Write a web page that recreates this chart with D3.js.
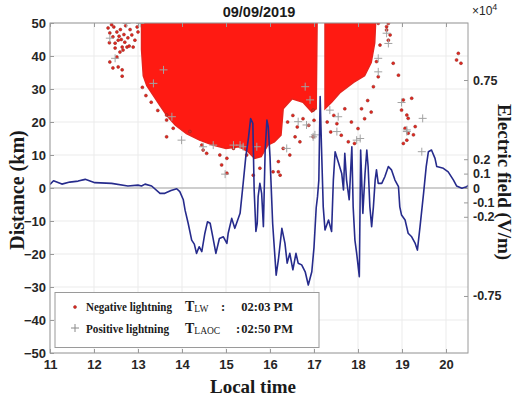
<!DOCTYPE html>
<html>
<head>
<meta charset="utf-8">
<style>
  body { margin: 0; background: #fff; }
  svg { display: block; }
</style>
</head>
<body>
<div id="chart"></div>
<script src="https://d3js.org/d3.v7.min.js"></script>
<script>
var W = 518, H = 401;
var plot = {x0: 50, x1: 468, y0: 23, y1: 353};

var timeTicks = [11, 12, 13, 14, 15, 16, 17, 18, 19, 20];
var distTicks = [-50, -40, -30, -20, -10, 0, 10, 20, 30, 40, 50];
var fieldTicks = [-0.75, -0.2, -0.1, 0, 0.1, 0.2, 0.75];

// electric field, x10^4 V/m  [local time, value]
var field = [
  [11.00, 0.025], [11.08, 0.050], [11.27, 0.027], [11.45, 0.041], [11.64, 0.048], [11.80, 0.060],
  [12.02, 0.037], [12.40, 0.032], [12.77, 0.014], [13.00, 0.020], [13.08, 0.014], [13.16, 0.027],
  [13.31, 0.014], [13.50, -0.037], [13.61, -0.037], [13.75, -0.018], [13.88, -0.005], [13.95, -0.025],
  [14.03, -0.082], [14.07, -0.154], [14.14, -0.245], [14.22, -0.362], [14.28, -0.390], [14.33, -0.454],
  [14.39, -0.408], [14.45, -0.442], [14.52, -0.314], [14.58, -0.234], [14.64, -0.245], [14.70, -0.339],
  [14.77, -0.454], [14.85, -0.351], [14.94, -0.339], [15.02, -0.385], [15.05, -0.314], [15.13, -0.211],
  [15.20, -0.280], [15.32, -0.176], [15.39, 0.032], [15.45, 0.218], [15.51, 0.346], [15.56, 0.483],
  [15.61, 0.449], [15.64, -0.014], [15.68, -0.302], [15.71, -0.245], [15.73, -0.060], [15.77, 0.032],
  [15.81, -0.037], [15.85, -0.268], [15.89, 0.264], [15.93, 0.472], [15.96, 0.426], [16.00, 0.218],
  [16.06, -0.245], [16.14, -0.605], [16.19, -0.500], [16.27, -0.280], [16.34, -0.385], [16.39, -0.522],
  [16.45, -0.454], [16.52, -0.568], [16.59, -0.454], [16.64, -0.522], [16.72, -0.534], [16.80, -0.582],
  [16.87, -0.674], [16.95, -0.582], [17.00, -0.412], [17.05, -0.137], [17.08, -0.060], [17.11, 0.055],
  [17.14, 0.635], [17.17, 0.286], [17.21, -0.131], [17.25, -0.291], [17.33, -0.222], [17.40, -0.302],
  [17.44, 0.055], [17.48, 0.252], [17.55, 0.183], [17.63, 0.101], [17.67, -0.014], [17.70, 0.241],
  [17.74, 0.055], [17.80, -0.082], [17.86, 0.286], [17.89, -0.131], [17.93, -0.362], [17.97, -0.454],
  [18.03, -0.616], [18.06, 0.264], [18.11, -0.176], [18.16, 0.101], [18.20, 0.264], [18.23, 0.149],
  [18.27, -0.131], [18.31, -0.268], [18.35, -0.131], [18.39, 0.055], [18.42, 0.126], [18.46, 0.032],
  [18.54, 0.032], [18.61, 0.078], [18.69, 0.149], [18.76, 0.126], [18.84, 0.055], [18.92, 0.009],
  [18.95, -0.131], [18.99, -0.188], [19.07, -0.222], [19.14, -0.314], [19.22, -0.339], [19.30, -0.385],
  [19.35, -0.431], [19.41, -0.268], [19.49, -0.037], [19.55, 0.149], [19.60, 0.252], [19.67, 0.264],
  [19.75, 0.206], [19.79, 0.149], [19.94, 0.137], [20.05, 0.112], [20.17, 0.055], [20.24, 0.014],
  [20.36, -0.002], [20.47, 0.009], [20.50, 0.018]
];

// dense negative lightning clouds: lower edge of the saturated region [time, km]
var cloudA = [
  [13.08, 50], [13.08, 42], [13.12, 34], [13.20, 31], [13.35, 28], [13.50, 25], [13.65, 22],
  [13.85, 19], [14.10, 16.5], [14.40, 14.5], [14.70, 13], [15.00, 12], [15.30, 12.5], [15.50, 11],
  [15.65, 9], [15.80, 9.5], [15.95, 13], [16.10, 14], [16.25, 16], [16.30, 24], [16.50, 27],
  [16.75, 26], [16.95, 23], [17.05, 24], [17.07, 50]
];
var cloudB = [
  [17.25, 50], [17.25, 24], [17.40, 26], [17.60, 29], [17.90, 32], [18.15, 34], [18.30, 38],
  [18.38, 44], [18.40, 50]
];

// scattered negative lightning [time, km]
var negative = [
  [12.32, 48.5], [12.36, 47.0], [12.43, 45.8], [12.52, 47.3], [12.48, 43.9], [12.55, 44.8],
  [12.64, 42.7], [12.70, 44.2], [12.59, 41.2], [12.77, 45.5], [12.86, 46.4], [12.98, 48.8],
  [13.00, 47.3], [12.89, 42.7], [12.36, 38.2], [12.43, 36.4], [12.55, 36.7], [12.64, 35.8],
  [12.64, 33.9], [12.48, 42.4], [12.52, 39.7], [12.66, 41.8], [12.75, 42.7], [12.40, 49.5],
  [12.60, 48.0], [12.72, 49.2], [12.82, 48.0], [12.93, 44.8], [12.57, 46.0], [12.45, 48.8],
  [12.68, 46.5], [12.80, 43.0], [12.35, 44.0], [12.62, 45.0],
  [13.10, 30.5], [13.18, 28.0], [13.30, 26.0], [13.45, 23.5], [13.65, 22.1], [13.80, 18.1],
  [13.65, 20.6], [13.65, 15.5], [14.18, 17.1], [14.45, 13.0], [14.48, 11.5], [14.56, 10.5],
  [14.86, 10.0], [14.90, 7.0], [15.02, 9.0], [15.02, 4.5], [15.17, 12.0], [15.47, 10.0],
  [15.62, 3.9], [15.77, 6.0], [16.07, 4.9], [16.19, 8.0], [16.19, 4.9], [16.23, 3.9],
  [16.30, 12.0], [16.45, 10.0], [16.57, 15.5], [16.68, 14.0], [16.98, 23.6], [16.98, 15.5],
  [16.40, 20.0], [16.52, 22.0], [16.62, 18.5], [16.75, 21.0], [16.88, 19.0], [17.00, 20.5],
  [17.30, 20.0], [17.38, 17.0], [17.45, 22.0], [17.52, 19.5], [17.62, 16.0], [17.70, 24.0],
  [17.78, 14.0], [17.85, 20.0], [17.92, 13.5], [18.00, 18.0], [18.08, 24.0], [18.15, 21.0],
  [18.22, 26.5], [18.30, 23.0], [18.35, 30.7], [18.42, 38.3], [18.46, 33.7], [18.46, 49.9],
  [18.50, 43.3], [18.65, 47.9], [18.65, 48.9], [18.69, 49.9], [18.69, 44.8], [18.73, 46.4],
  [18.80, 37.8], [18.92, 34.2],
  [19.03, 26.7], [19.22, 27.2], [18.99, 23.6], [19.11, 22.1], [19.14, 21.1], [19.07, 18.1],
  [19.14, 16.6], [19.26, 16.1], [19.11, 14.5], [19.03, 13.5], [19.30, 18.6],
  [20.28, 40.8], [20.24, 38.8], [20.34, 37.8]
];

// positive lightning [time, km]
var positive = [
  [12.36, 45.4], [12.48, 39.3], [12.74, 49.9], [13.05, 49.9], [13.35, 31.7], [13.58, 35.8],
  [13.77, 21.6], [13.99, 14.5], [14.48, 12.5], [14.71, 13.0], [14.98, 4.2], [15.17, 13.0],
  [15.32, 13.0], [15.39, 12.5], [15.70, 12.5], [16.38, 12.0], [16.64, 20.1], [16.80, 30.7],
  [16.83, 19.1], [16.91, 26.7], [16.98, 15.5], [17.02, 16.1], [17.36, 23.6], [17.52, 17.1],
  [17.55, 21.6], [17.97, 14.5], [18.05, 15.0], [18.46, 35.2], [18.46, 39.3], [18.65, 46.9],
  [18.69, 43.8], [18.99, 25.9], [19.11, 17.1], [19.11, 17.6], [19.47, 21.1], [19.45, 11.0]
];

var x = d3.scaleLinear().domain([11, 20.5]).range([plot.x0, plot.x1]);
var yDist = d3.scaleLinear().domain([-50, 50]).range([plot.y1, plot.y0]);
var yField = d3.scaleLinear().domain([-1.146, 1.146]).range([plot.y1, plot.y0]);

var svg = d3.select("#chart").append("svg")
  .attr("width", W)
  .attr("height", H)
  .style("background", "#fff");

svg.append("defs").append("clipPath").attr("id", "clip")
  .append("rect")
  .attr("x", plot.x0).attr("y", plot.y0)
  .attr("width", plot.x1 - plot.x0).attr("height", plot.y1 - plot.y0);

// grid
var grid = svg.append("g").attr("stroke", "#ebebeb").attr("stroke-width", 1);
grid.selectAll(".gx").data(timeTicks).enter().append("line")
  .attr("x1", d => x(d)).attr("x2", d => x(d))
  .attr("y1", plot.y0).attr("y2", plot.y1);
grid.selectAll(".gy").data(distTicks).enter().append("line")
  .attr("x1", plot.x0).attr("x2", plot.x1)
  .attr("y1", d => yDist(d)).attr("y2", d => yDist(d));

svg.append("line")
  .attr("x1", plot.x0).attr("x2", plot.x1)
  .attr("y1", yDist(0)).attr("y2", yDist(0))
  .attr("stroke", "#a8a8a8").attr("stroke-width", 1.2);

var marks = svg.append("g").attr("clip-path", "url(#clip)");

var cloud = d3.area()
  .x(d => x(d[0]))
  .y0(yDist(50))
  .y1(d => yDist(d[1]));

marks.selectAll(".cloud").data([cloudA, cloudB]).enter().append("path")
  .attr("d", cloud)
  .attr("fill", "#ff1a12")
  .attr("stroke", "#e8231c")
  .attr("stroke-width", 1.5);

marks.selectAll(".neg").data(negative).enter().append("circle")
  .attr("cx", d => x(d[0]))
  .attr("cy", d => yDist(d[1]))
  .attr("r", 1.5)
  .attr("fill", "#e3261f")
  .attr("stroke", "#8a2a22")
  .attr("stroke-width", 0.5);

var plus = d => `M${x(d[0]) - 4},${yDist(d[1])}h8M${x(d[0])},${yDist(d[1]) - 4}v8`;
marks.selectAll(".pos").data(positive).enter().append("path")
  .attr("d", plus)
  .attr("stroke", "#a3a3a3")
  .attr("stroke-width", 1)
  .attr("fill", "none");

var line = d3.line()
  .x(d => x(d[0]))
  .y(d => yField(d[1]));

marks.append("path")
  .datum(field)
  .attr("d", line)
  .attr("fill", "none")
  .attr("stroke", "#262b8c")
  .attr("stroke-width", 1.6)
  .attr("stroke-linejoin", "round");

// axes box
svg.append("rect")
  .attr("x", plot.x0).attr("y", plot.y0)
  .attr("width", plot.x1 - plot.x0).attr("height", plot.y1 - plot.y0)
  .attr("fill", "none")
  .attr("stroke", "#9a9a9a")
  .attr("stroke-width", 1);

var tickFont = "'Liberation Sans', Arial, sans-serif";
var serif = "'Liberation Serif', 'Times New Roman', serif";

var axB = svg.append("g").attr("transform", `translate(0,${plot.y1})`)
  .call(d3.axisBottom(x).tickValues(timeTicks).tickSizeInner(-4).tickSizeOuter(0).tickPadding(7));
var axT = svg.append("g").attr("transform", `translate(0,${plot.y0})`)
  .call(d3.axisTop(x).tickValues(timeTicks).tickSizeInner(-4).tickSizeOuter(0).tickFormat(""));
var axL = svg.append("g").attr("transform", `translate(${plot.x0},0)`)
  .call(d3.axisLeft(yDist).tickValues(distTicks).tickSizeInner(-4).tickSizeOuter(0).tickPadding(4));
var axR = svg.append("g").attr("transform", `translate(${plot.x1},0)`)
  .call(d3.axisRight(yField).tickValues(fieldTicks).tickSizeInner(-4).tickSizeOuter(0).tickPadding(5)
    .tickFormat(d => String(d)));

[axB, axT, axL, axR].forEach(g => {
  g.select(".domain").remove();
  g.selectAll(".tick line").attr("stroke", "#9a9a9a");
  g.selectAll("text")
    .attr("fill", "#262626")
    .style("font-family", tickFont)
    .style("font-weight", "bold")
    .style("font-size", "13px");
});
axR.selectAll("text").style("font-size", "12.5px");

// x10^4
svg.append("text")
  .attr("x", 472).attr("y", 15)
  .style("font-family", tickFont).style("font-size", "12px").attr("fill", "#262626")
  .text("\u00d710")
  .append("tspan").attr("dy", -5).style("font-size", "9px").text("4");

svg.append("text")
  .attr("x", 259).attr("y", 17)
  .attr("text-anchor", "middle")
  .style("font-family", tickFont).style("font-weight", "bold").style("font-size", "14.5px")
  .attr("fill", "#1a1a1a")
  .text("09/09/2019");

svg.append("text")
  .attr("x", 253).attr("y", 393)
  .attr("text-anchor", "middle")
  .style("font-family", serif).style("font-weight", "bold").style("font-size", "19px")
  .attr("fill", "#1a1a1a")
  .text("Local time");

svg.append("text")
  .attr("transform", "translate(24,190) rotate(-90)")
  .attr("text-anchor", "middle")
  .style("font-family", serif).style("font-weight", "bold").style("font-size", "20px")
  .attr("fill", "#1a1a1a")
  .text("Distance (km)");

svg.append("text")
  .attr("transform", "translate(498,182) rotate(90)")
  .attr("text-anchor", "middle")
  .style("font-family", serif).style("font-weight", "bold").style("font-size", "19px")
  .attr("fill", "#1a1a1a")
  .text("Electric field (V/m)");

// legend
var lg = svg.append("g");
lg.append("rect")
  .attr("x", 55).attr("y", 292.5).attr("width", 264).attr("height", 55)
  .attr("fill", "#fff").attr("stroke", "#9a9a9a").attr("stroke-width", 1);
lg.append("circle").attr("cx", 75).attr("cy", 307).attr("r", 1.5)
  .attr("fill", "#e3261f").attr("stroke", "#8a2a22").attr("stroke-width", 0.5);
lg.append("path").attr("d", "M71,328h8M75,324v8").attr("stroke", "#8a8a8a").attr("stroke-width", 1);

var rows = [
  {y: 311, label: "Negative lightning", len: 86, sub: "LW", colon: 221, time: "02:03 PM"},
  {y: 333, label: "Positive lightning", len: 83, sub: "LAOC", colon: 236, time: "02:50 PM"}
];
rows.forEach(r => {
  var t = lg.append("g")
    .style("font-family", serif).style("font-weight", "bold").attr("fill", "#1a1a1a");
  t.append("text").attr("x", 86).attr("y", r.y).style("font-size", "12.5px")
    .attr("textLength", r.len).attr("lengthAdjust", "spacingAndGlyphs").text(r.label);
  var tt = t.append("text").attr("x", 185).attr("y", r.y).style("font-size", "14px").text("T");
  tt.append("tspan").attr("dy", 1).style("font-size", "9.5px").style("font-weight", "normal").text(r.sub);
  t.append("text").attr("x", r.colon).attr("y", r.y).style("font-size", "12.5px").text(":");
  t.append("text").attr("x", 293).attr("y", r.y).attr("text-anchor", "end").style("font-size", "12.5px").text(r.time);
});
</script>
</body>
</html>
